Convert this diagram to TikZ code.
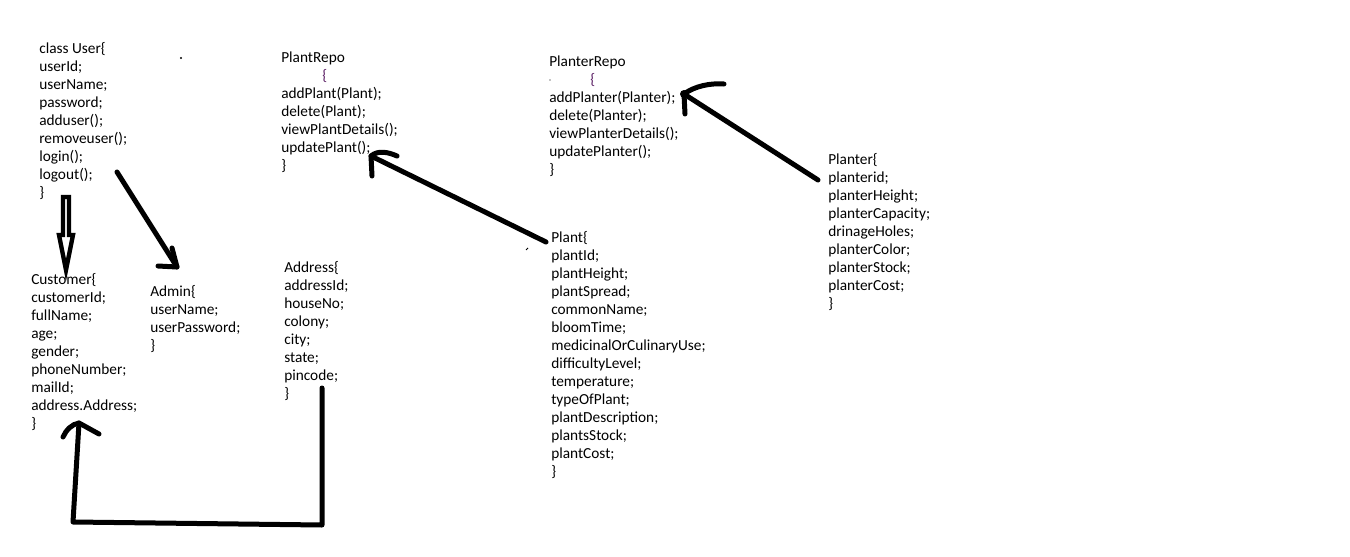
\documentclass[tikz,border=0pt]{standalone}
\usepackage{fontspec}
\setmainfont{Carlito}
\definecolor{brc}{RGB}{90,30,100}
\begin{document}
\begin{tikzpicture}[x=0.75pt,y=-0.75pt,
  cls/.style={anchor=north west,inner sep=0pt,align=left,font=\fontsize{11.5}{13.5}\selectfont,text=black},
  pen/.style={line width=3.75pt,line cap=round,line join=round},
  thinpen/.style={line width=3pt,line cap=round,line join=round}]
\fill[white] (0,0) rectangle (1350,557);
\useasboundingbox (0,0) rectangle (1350,557);

\node[cls] (user) at (39,42) {class User\{\\userId;\\userName;\\password;\\adduser();\\removeuser();\\login();\\logout();\\\}};
\node[cls] (plantrepo) at (281,52) {PlantRepo\\\hspace*{30.75pt}\textcolor{brc}{\{}\\addPlant(Plant);\\delete(Plant);\\viewPlantDetails();\\updatePlant();\\\}};
\node[cls] (planterrepo) at (549,56) {PlanterRepo\\\hspace*{30.75pt}\textcolor{brc}{\{}\\addPlanter(Planter);\\delete(Planter);\\viewPlanterDetails();\\updatePlanter();\\\}};
\node[cls] (planter) at (828,153) {Planter\{\\planterid;\\planterHeight;\\planterCapacity;\\drinageHoles;\\planterColor;\\planterStock;\\planterCost;\\\}};
\node[cls] (plant) at (551,231) {Plant\{\\plantId;\\plantHeight;\\plantSpread;\\commonName;\\bloomTime;\\medicinalOrCulinaryUse;\\difficultyLevel;\\temperature;\\typeOfPlant;\\plantDescription;\\plantsStock;\\plantCost;\\\}};
\node[cls] (customer) at (31,273) {Customer\{\\customerId;\\fullName;\\age;\\gender;\\phoneNumber;\\mailId;\\address.Address;\\\}};
\node[cls] (admin) at (150,285) {Admin\{\\userName;\\userPassword;\\\}};
\node[cls] (address) at (284,261) {Address\{\\addressId;\\houseNo;\\colony;\\city;\\state;\\pincode;\\\}};

% stray dots
\fill (181,58) circle (1.1);
\fill (550,80) circle (0.6);
\draw[line width=0.75pt] (526,250) -- (528,248);

% User -> Customer (hollow block arrow)
\coordinate (ucTail) at (66,197);
\coordinate (ucTip) at (66,270);
\draw[line width=3.3pt,line cap=butt,line join=miter]
  (63,197) -- (69,197) -- (69,235) -- (73,235) -- (ucTip) -- (59,235) -- (63,235) -- cycle;

% User -> Admin
\coordinate (uaTail) at (117,172);
\coordinate (uaTip) at (177,267);
\draw[pen] (uaTail) -- (uaTip);
\draw[pen] (172,248) -- (177,267) -- (158,266);

% Address -> Customer
\coordinate (acTail) at (322,388);
\coordinate (acTip) at (79,423);
\draw[pen] (acTail) -- (322,525) -- (73,522) -- (acTip);
\draw[pen] (63,437) .. controls (66,430) and (72,424) .. (acTip) -- (99,434);

% Plant -> PlantRepo
\coordinate (ppTail) at (546,242);
\coordinate (ppTip) at (371,156);
\draw[pen] (ppTail) -- (ppTip);
\draw[pen] (372,176) -- (371,156) .. controls (378,150) and (388,152) .. (397,156);

% Planter -> PlanterRepo
\coordinate (prTail) at (818,180);
\coordinate (prTip) at (684,94);
\draw[pen] (prTail) -- (prTip);
\draw[pen] (685,114) -- (684,94) .. controls (695,86) and (710,83) .. (724,84);
\fill (684,94) circle (4);
\end{tikzpicture}
\end{document}
